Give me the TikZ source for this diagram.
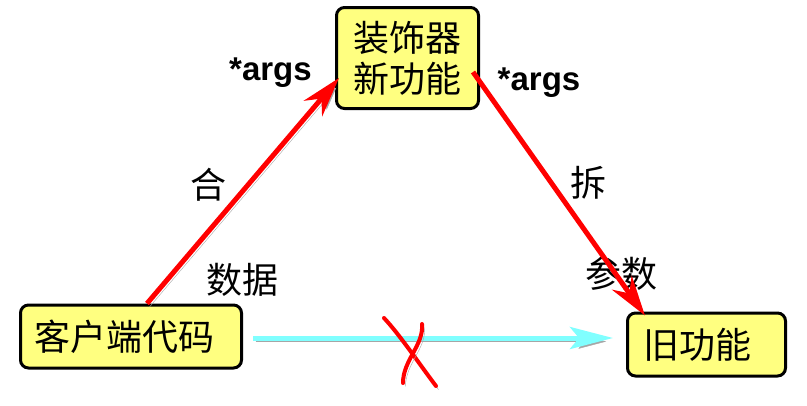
\documentclass[tikz,border=0pt]{standalone}
\usepackage{fontspec}
\setmainfont{Noto Sans CJK SC}
\newfontfamily\argsfont{Liberation Sans}
\usetikzlibrary{arrows.meta}
\definecolor{boxyellow}{RGB}{255,255,128}
\definecolor{linecyan}{RGB}{128,255,255}
\tikzstyle{box} = [rectangle, rounded corners=8pt, draw=black, line width=3pt, fill=boxyellow, inner ysep=0pt, font=\fontsize{36}{41}\selectfont]
\tikzstyle{lbl} = [draw=none, inner sep=0pt, font=\fontsize{36}{41}\selectfont]
\tikzstyle{argtext} = [draw=none, inner sep=0pt, font=\argsfont\bfseries\fontsize{33}{36}\selectfont]
\tikzstyle{shadowed} = [preaction={draw=black!35, transform canvas={shift={(2.5pt,-3.5pt)}}}]
\tikzstyle{arrow} = [shadowed, red, line width=5pt, -{Stealth[length=40pt, width=24pt, inset=13pt]}]
\tikzstyle{arrow_no} = [shadowed, linecyan, line width=5pt, -{Stealth[length=43pt, width=22pt, inset=9pt]}]
\tikzstyle{crossmark} = [shadowed, red, line width=4pt, line cap=round]

\begin{document}
\begin{tikzpicture}[x=1pt, y=-1pt]
		\useasboundingbox (0,0) rectangle (807,405);
		\node (deco) [box, align=center, minimum width=142pt, minimum height=101pt] at (407.5,58) {装饰器\\新功能};
		\node (client) [box, align=left, inner xsep=14pt, text width=193pt, minimum height=63pt] at (131,336.5) {客户端代码};
		\node (old) [box, align=left, inner xsep=16pt, text width=126pt, minimum height=63pt] at (706.5,344.5) {旧功能};

		\node (args_in) [argtext] at (270.5,72.5) {*args};
		\node (args_out) [argtext] at (539,83) {*args};
		\node (pack) [lbl] at (208,185) {合};
		\node (data) [lbl] at (242,280) {数据};
		\node (unpack) [lbl] at (588,183) {拆};
		\node (params) [lbl] at (621,274) {参数};

		\draw [arrow_no] ([xshift=10pt,yshift=-1.5pt]client.east) -- ([xshift=-13pt,yshift=6.5pt]old.west);
		\draw [arrow] ([xshift=16pt]client.north) -- ([xshift=4pt,yshift=-20pt]deco.west);
		\draw [arrow] ([xshift=-7pt,yshift=-14pt]deco.east) -- ([xshift=19pt,yshift=-4pt]old.north west);

		\draw [crossmark] (384,318) .. controls (400,335) and (420,365) .. (436,386);
		\draw [crossmark] (422,324) .. controls (424,345) and (403,360) .. (403,383);
\end{tikzpicture}
\end{document}
